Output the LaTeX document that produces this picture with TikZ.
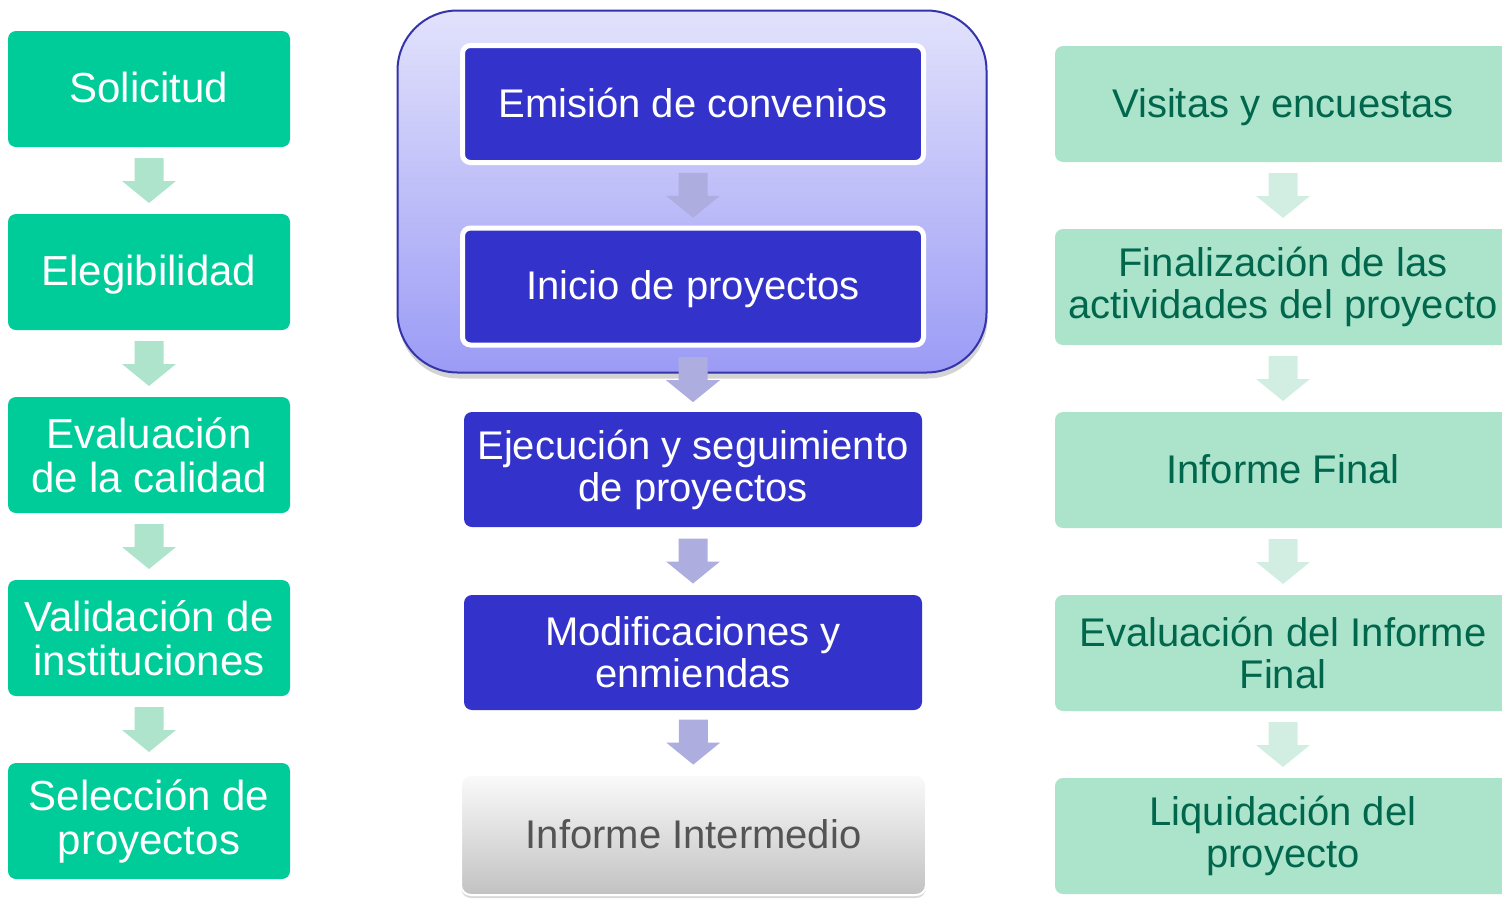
\documentclass[tikz,border=0pt]{standalone}
\usepackage{fontspec}
\setmainfont{Liberation Sans}
\usetikzlibrary{calc,shadows}
\definecolor{lgreen}{HTML}{00CC99}
\definecolor{lgarrow}{HTML}{AEE3CC}
\definecolor{rgreen}{HTML}{ABE3CB}
\definecolor{rgarrow}{HTML}{D2EEE2}
\definecolor{rtext}{HTML}{00664C}
\definecolor{mblue}{HTML}{3333CC}
\definecolor{marrow}{HTML}{ADADDF}
\definecolor{gtop}{HTML}{E2E2FC}
\definecolor{gbot}{HTML}{9B9BF6}
\definecolor{gborder}{HTML}{3333AA}
\newcommand\blockarr[3]{%
  \coordinate (m) at ($(#1.south)!0.5!(#2.north)$);
  \fill[#3] ($(m)+(-14.5,-22.5)$) -- ++(29,0) -- ++(0,23) -- ++(12.5,0)
    -- ($(m)+(0,22.5)$) -- ($(m)+(-27,0.5)$) -- ++(12.5,0) -- cycle;}
\tikzset{
  leftbox/.style={rectangle, rounded corners=8pt, fill=lgreen, text=white,
    minimum width=282pt, minimum height=116pt, align=center, inner sep=0pt,
    font=\fontsize{42}{44}\selectfont},
  midbox/.style={rectangle, rounded corners=8pt, fill=mblue, text=white,
    minimum width=458pt, minimum height=115pt, align=center, inner sep=0pt,
    font=\fontsize{40}{42}\selectfont},
  midwbox/.style={midbox, draw=white, line width=5pt, minimum width=461pt, minimum height=117pt},
  rightbox/.style={rectangle, rounded corners=8pt, fill=rgreen, text=rtext,
    minimum width=456pt, minimum height=116pt, align=center, inner sep=0pt,
    font=\fontsize{40}{42}\selectfont},
  oneline/.style={text height=34pt, text depth=8pt},
}
\begin{document}
\begin{tikzpicture}[x=1pt,y=-1pt]
\useasboundingbox (0,0) rectangle (1502,900);
\clip (0,0) rectangle (1502,900);
% left column
\node[leftbox, oneline] (l1) at (149,89) {Solicitud};
\node[leftbox, oneline] (l2) at (149,272) {Elegibilidad};
\node[leftbox] (l3) at (149,455) {Evaluación\\de la calidad};
\node[leftbox] (l4) at (149,638) {Validación de\\instituciones};
\node[leftbox] (l5) at (149,821) {Selección de\\proyectos};
\blockarr{l1}{l2}{lgarrow}
\blockarr{l2}{l3}{lgarrow}
\blockarr{l3}{l4}{lgarrow}
\blockarr{l4}{l5}{lgarrow}
% middle group
\node[rectangle, rounded corners=60pt, draw=gborder, line width=2pt,
  top color=gtop, bottom color=gbot, minimum width=589pt, minimum height=362pt,
  drop shadow={shadow xshift=1pt, shadow yshift=-6pt, opacity=0.35}] (grp) at (692,191.5) {};
\node[midwbox, oneline] (m1) at (693,104) {Emisión de convenios};
\node[midwbox, oneline] (m2) at (693,286.5) {Inicio de proyectos};
\node[midbox] (m3) at (693,469.5) {Ejecución y seguimiento\\de proyectos};
\node[midbox] (m4) at (693,652.5) {Modificaciones y\\enmiendas};
\node[rectangle, rounded corners=10pt, draw=white, line width=2pt,
  top color=white!96!gray, bottom color=black!24, text=black!67,
  minimum width=465pt, minimum height=120pt, inner sep=0pt, oneline,
  font=\fontsize{40}{42}\selectfont,
  drop shadow={shadow xshift=0pt, shadow yshift=-3pt, opacity=0.3}] (m5) at (693.5,835) {Informe Intermedio};
\blockarr{m1}{m2}{marrow}
\blockarr{m2}{m3}{marrow}
\blockarr{m3}{m4}{marrow}
\blockarr{m4}{m5}{marrow}
% right column
\node[rightbox, oneline] (r1) at (1283,104) {Visitas y encuestas};
\node[rightbox] (r2) at (1283,287) {Finalización de las\\actividades del proyecto};
\node[rightbox, oneline] (r3) at (1283,470) {Informe Final};
\node[rightbox] (r4) at (1283,653) {Evaluación del Informe\\Final};
\node[rightbox] (r5) at (1283,836) {Liquidación del\\proyecto};
\blockarr{r1}{r2}{rgarrow}
\blockarr{r2}{r3}{rgarrow}
\blockarr{r3}{r4}{rgarrow}
\blockarr{r4}{r5}{rgarrow}
\end{tikzpicture}
\end{document}
